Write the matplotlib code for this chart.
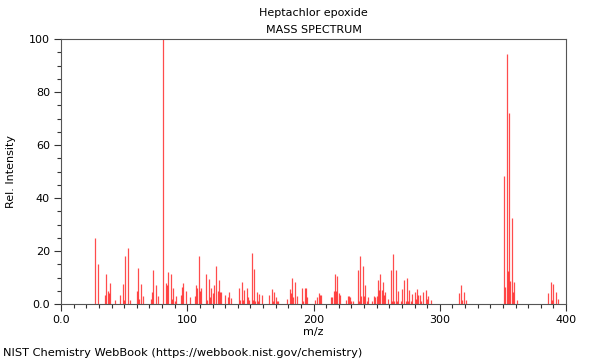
import matplotlib
matplotlib.use("Agg")
import matplotlib.pyplot as plt
from matplotlib.ticker import MultipleLocator, FixedLocator

title = "Heptachlor epoxide"
subtitle = "MASS SPECTRUM"
xlabel = "m/z"
ylabel = "Rel. Intensity"
footer = "NIST Chemistry WebBook (https://webbook.nist.gov/chemistry)"

mz = [27, 29, 35, 36, 37, 38, 39, 43, 47, 49, 50, 51, 53, 55,
      60, 61, 62, 63, 65, 71, 72, 73, 75, 77, 81, 83, 84, 85, 87, 88, 89, 90, 91,
      95, 96, 97, 99, 102, 106, 107, 108, 109, 110, 111, 115, 116, 117, 118, 119, 120,
      121, 123, 124, 125, 126, 127, 130, 132, 133, 135, 141, 142, 143, 144, 145, 147,
      148, 149, 151, 152, 153, 154, 155, 156, 157, 159, 165, 167, 168, 169, 170, 171,
      172, 179, 181, 182, 183, 184, 185, 187, 191, 192, 193, 194, 195, 201, 203, 204,
      205, 206, 214, 215, 216, 217, 218, 219, 220, 221, 226, 227, 228, 229, 230, 231,
      235, 236, 237, 238, 239, 240, 241, 242, 243, 246, 248, 249, 250, 251, 252, 253,
      254, 255, 256, 257, 259, 261, 262, 263, 264, 265, 266, 267, 269, 270, 272, 273,
      274, 275, 276, 277, 278, 280, 281, 282, 283, 284, 285, 287, 289, 290, 291, 293,
      315, 317, 318, 319, 321, 351, 352, 353, 354, 355, 356, 357, 358, 359, 361,
      386, 388, 389, 390, 392, 394]
intensity = [25, 15, 3.5, 11.5, 5, 4, 8, 1.5, 3.4, 7.4, 1.5, 18, 21, 1.5,
             5, 13.5, 2, 7.5, 3, 2, 4.4, 13, 7, 3, 100, 8, 7, 12, 11.3, 2, 6, 1.2, 3,
             3.5, 6.6, 7.8, 5, 2.5, 3, 7, 6, 18.2, 5, 6, 11.3, 1.5, 9.4, 2.5, 6.2, 4,
             7, 14.4, 4.8, 9, 4.5, 4.4, 3.4, 2.7, 4.4, 2.4, 6, 1.5, 8.3, 1.5, 5.3, 6.2,
             2.5, 1.5, 19.4, 1.5, 13.3, 1.3, 4.5, 1.3, 3.6, 3.3, 3.3, 5.5, 1.3, 4.5, 2.5, 1.3,
             1.2, 2, 5.5, 4, 10, 2.5, 8.2, 3, 6, 1.2, 6, 6, 2.7, 1.5, 2.7, 4,
             3.5, 3.5, 2.7, 2.7, 5, 11.5, 5, 10.5, 4, 3.5, 1.5, 3, 3, 2.6, 1.3, 1.3,
             13, 1.3, 18.2, 3, 14.2, 3, 7, 1.3, 2.5, 1.3, 2.9, 2.7, 3, 9.1, 5.4, 11.5,
             5.4, 8.2, 3.5, 4.7, 1.8, 13, 1.3, 19, 1.3, 12.8, 1.3, 5, 1.3, 5.7, 9, 1.3,
             9.8, 1.3, 5.2, 1.3, 3.6, 4.7, 2, 5.6, 3.3, 3.3, 1.2, 4.7, 5.3, 1.8, 3, 1.4,
             4.3, 7, 1.5, 4.7, 1.5, 48.3, 6.3, 94.2, 12.6, 72.2, 8.5, 32.3, 4.7, 8.2, 1.5,
             4.2, 8.2, 1.5, 7.4, 4.7, 1.7]

x_ticks = [0, 100, 200, 300, 400]
x_ticklabels = ["0.0", "100", "200", "300", "400"]
y_ticks = [0, 20, 40, 60, 80, 100]
y_ticklabels = ["0.0", "20", "40", "60", "80", "100"]

fig = plt.figure(figsize=(6, 3.6), dpi=100)
ax = fig.add_axes([61/600, 56/360, 505/600, 265/360])

ax.vlines(mz, 0, intensity, colors="#ff0000", linewidth=0.9, alpha=0.7)

ax.set_xlim(0, 400)
ax.set_ylim(0, 100)
ax.xaxis.set_major_locator(FixedLocator(x_ticks))
ax.set_xticklabels(x_ticklabels)
ax.yaxis.set_major_locator(FixedLocator(y_ticks))
ax.set_yticklabels(y_ticklabels)
ax.xaxis.set_minor_locator(MultipleLocator(10))
ax.yaxis.set_minor_locator(MultipleLocator(5))
ax.tick_params(which="major", length=5, width=0.8, labelsize=8, color="#333333", pad=3)
ax.tick_params(which="minor", length=3, width=0.8, color="#333333")
for s in ax.spines.values():
    s.set_color("#555555")
    s.set_linewidth(0.8)

ax.set_xlabel(xlabel, fontsize=8, labelpad=1)
ax.set_ylabel(ylabel, fontsize=8, labelpad=9)

fig.text(313.5/600, 1 - 13/360, title, ha="center", va="center", fontsize=8)
fig.text(313.5/600, 1 - 30/360, subtitle, ha="center", va="center", fontsize=8)
fig.text(3/600, 1 - 353/360, footer, ha="left", va="center", fontsize=8.2)

fig.savefig("out.png", dpi=100)
